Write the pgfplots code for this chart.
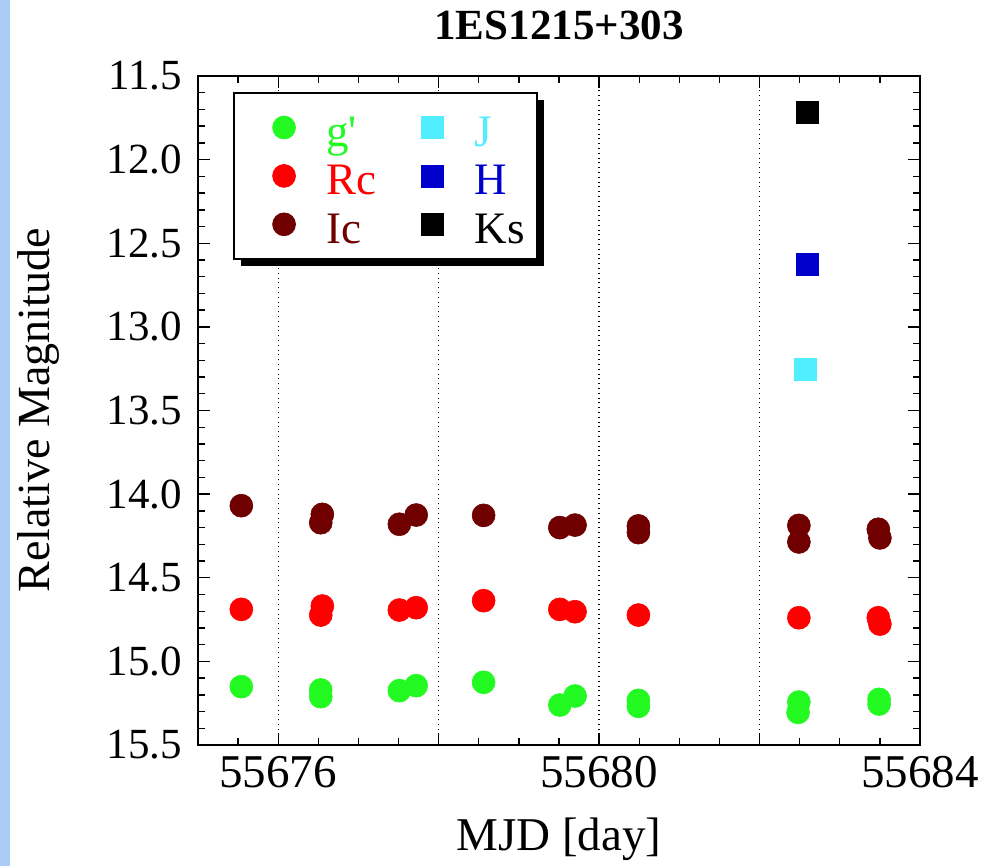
\documentclass[border=0pt]{standalone}
\usepackage{fontspec}
\setmainfont{Liberation Serif}
\usepackage{pgfplots}
\pgfplotsset{compat=1.18}
\usetikzlibrary{shadows,calc}
\definecolor{cg}{RGB}{34,250,34}
\definecolor{cr}{RGB}{255,0,0}
\definecolor{cic}{RGB}{112,0,0}
\definecolor{cj}{RGB}{80,238,255}
\definecolor{ch}{RGB}{0,0,204}
\definecolor{strip}{RGB}{170,205,245}

\pgfplotstableread{
x y
55675.54 15.151
55676.53 15.171
55676.53 15.211
55677.51 15.175
55677.72 15.145
55678.56 15.125
55679.51 15.261
55679.70 15.207
55680.49 15.233
55680.49 15.269
55682.49 15.243
55682.48 15.305
55683.49 15.227
55683.49 15.255
}\gdata
\pgfplotstableread{
x y
55675.54 14.689
55676.55 14.669
55676.53 14.723
55677.51 14.693
55677.72 14.679
55678.56 14.637
55679.51 14.689
55679.70 14.703
55680.49 14.723
55682.49 14.739
55683.48 14.739
55683.50 14.777
}\rdata
\pgfplotstableread{
x y
55675.54 14.069
55676.55 14.121
55676.53 14.171
55677.51 14.180
55677.72 14.125
55678.56 14.127
55679.51 14.200
55679.70 14.185
55680.49 14.190
55680.49 14.230
55682.49 14.187
55682.49 14.286
55683.48 14.210
55683.50 14.262
}\idata

\begin{document}
\begin{tikzpicture}
\begin{axis}[
  scale only axis, width=361pt, height=334.5pt,
  xmin=55675, xmax=55684, ymin=11.5, ymax=15.5, y dir=reverse,
  scaled x ticks=false,
  xtick={55676,55678,55680,55682,55684},
  xticklabels={55676,,55680,,55684},
  minor xtick={55675,55675.5,...,55684},
  ytick={11.5,12,...,15.5},
  minor ytick={11.5,11.6,...,15.5},
  xticklabel style={font=\fontsize{23.5}{28}\selectfont, yshift=-2pt},
  yticklabel style={font=\fontsize{21.5}{26}\selectfont, xshift=-4.5pt,
    /pgf/number format/.cd, fixed, fixed zerofill, precision=1, assume math mode=true},
  xmajorgrids, major grid style={black, dotted, line width=0.7pt},
  tick align=inside, major tick length=6pt, minor tick length=3.5pt,
  every tick/.style={black, line width=0.7pt},
  axis line style={line width=1pt},
  title={\bfseries 1ES1215+303},
  title style={font=\fontsize{21.5}{26}\selectfont, at={(0.5,1)}, anchor=base, yshift=12.5pt},
  xlabel={MJD [day]},
  xlabel style={font=\fontsize{23.5}{28}\selectfont, at={(0.5,0)}, anchor=base, yshift=-52.5pt},
  ylabel={Relative Magnitude},
  ylabel style={font=\fontsize{23}{28}\selectfont, at={(-0.205,0.5)}, anchor=base, rotate=0},
  legend columns=3, transpose legend, legend cell align=left,
  legend style={at={(0.0485,0.976)}, anchor=north west, draw=black, line width=0.75pt,
    fill=white, inner xsep=0pt, inner ysep=6.5pt, row sep=2.5pt, column sep=0pt,
    font=\fontsize{22.5}{27}\selectfont,
    drop shadow={shadow xshift=3.5pt, shadow yshift=-3.5pt, fill=black, opacity=1},
    nodes={inner sep=0pt}},
  legend image code/.code={\path (-25pt,0pt) (21pt,0pt); \draw[#1, mark repeat=1] plot coordinates {(0pt,0pt)};},
]
\addplot[only marks, mark=*, mark size=5.75pt, color=cg, line width=0.3pt] table {\gdata};
\addlegendentry{\makebox[28pt][l]{\textcolor{cg}{g\textquotesingle}}\rule[-5.3pt]{0pt}{25.5pt}}
\addplot[only marks, mark=*, mark size=5.75pt, color=cr, line width=0.3pt] table {\rdata};
\addlegendentry{\makebox[28pt][l]{\textcolor{cr}{Rc}}\rule[-5.3pt]{0pt}{25.5pt}}
\addplot[only marks, mark=*, mark size=5.75pt, color=cic, line width=0.3pt] table {\idata};
\addlegendentry{\makebox[28pt][l]{\textcolor{cic}{Ic}}\rule[-5.3pt]{0pt}{25.5pt}}
\addplot[only marks, mark=square*, mark size=5.5pt, color=cj, line width=0.3pt] coordinates {(55682.57,13.252)};
\addlegendentry{\makebox[31pt][l]{\textcolor{cj}{J}}\rule[-5.3pt]{0pt}{25.5pt}}
\addplot[only marks, mark=square*, mark size=5.5pt, color=ch, line width=0.3pt] coordinates {(55682.60,12.627)};
\addlegendentry{\makebox[31pt][l]{\textcolor{ch}{H}}\rule[-5.3pt]{0pt}{25.5pt}}
\addplot[only marks, mark=square*, mark size=5.5pt, color=black, line width=0.3pt] coordinates {(55682.60,11.715)};
\addlegendentry{\makebox[31pt][l]{\textcolor{black}{Ks}}\rule[-5.3pt]{0pt}{25.5pt}}
\end{axis}
\fill[strip] ($(current axis.south west)+(-99pt,-60.5pt)$) rectangle ($(current axis.north west)+(-94pt,38pt)$);
\pgfresetboundingbox
\path[use as bounding box] ($(current axis.south west)+(-99pt,-60.5pt)$) rectangle ($(current axis.north east)+(31pt,38pt)$);
\end{tikzpicture}
\end{document}
